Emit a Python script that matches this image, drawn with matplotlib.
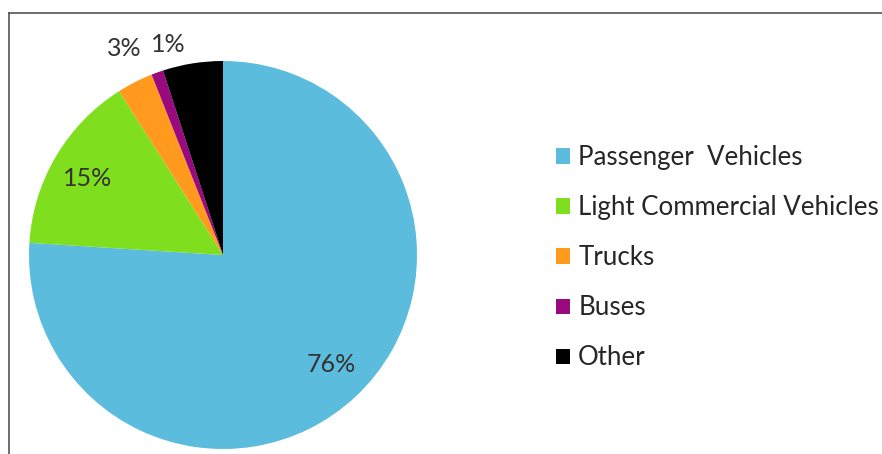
import matplotlib
matplotlib.use("Agg")
import matplotlib.pyplot as plt
from matplotlib.lines import Line2D

categories = ["Passenger  Vehicles", "Light Commercial Vehicles", "Trucks", "Buses", "Other"]
values = [76, 15, 3, 1, 5]
pct_labels = ["76%", "15%", "3%", "1%", ""]
colors = ["#5BBCDD", "#7FDF1E", "#FF9A1F", "#990A7E", "#000000"]

W, H = 882, 454
fig = plt.figure(figsize=(W / 100, H / 100), dpi=100)
ax = fig.add_axes([0, 0, 1, 1])

cx, cy, r = 223, H - 255, 194
wedges, _ = ax.pie(values, colors=colors, startangle=90, counterclock=False,
                   center=(cx, cy), radius=r, frame=False,
                   wedgeprops=dict(linewidth=0))
ax.set_xlim(0, W)
ax.set_ylim(0, H)
ax.set_aspect("auto")
ax.axis("off")

label_pos = [(331, 364), (88, 179), (124, 48), (168, 44)]
for (px, py), lab in zip(label_pos, pct_labels):
    ax.text(px, H - py, lab, ha="center", va="center", fontsize=18,
            family="Lato", color="#333333")

# frame lines (top and left)
ax.add_line(Line2D([9, W], [H - 13, H - 13], color="#555555", lw=1.2))
ax.add_line(Line2D([9, 9], [H - 13, 0], color="#555555", lw=1.2))

leg = fig.legend(wedges, categories, loc="upper left",
                 bbox_to_anchor=(533 / W, 1 - 122 / H), frameon=False,
                 prop=dict(family="Lato", size=18.6), labelcolor="#262626",
                 handlelength=0.55, handleheight=0.55, handletextpad=0.3,
                 labelspacing=0.97)

fig.savefig("out.png", dpi=100)
